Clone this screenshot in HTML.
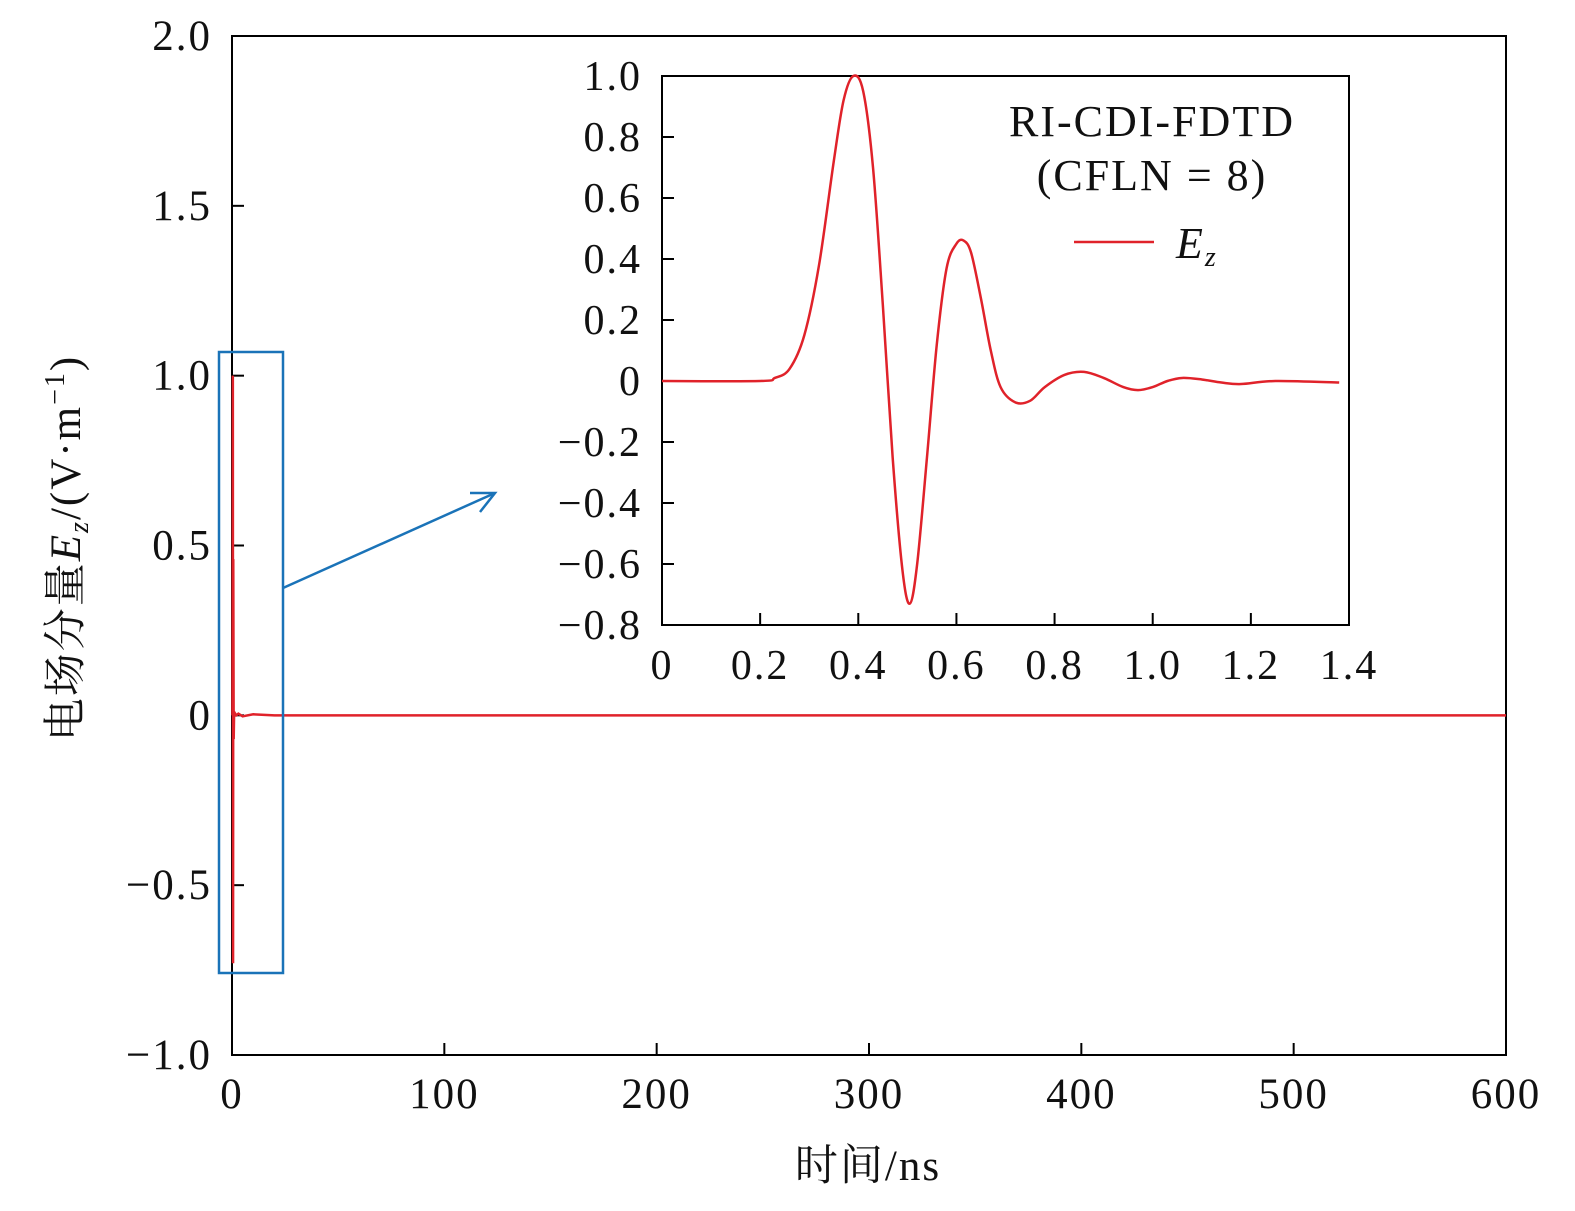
<!DOCTYPE html>
<html><head><meta charset="utf-8"><style>
body{margin:0;background:#fff}
svg{display:block}
svg text{font-family:"Liberation Serif","Noto Serif CJK SC",serif;fill:#111;letter-spacing:2px}
</style></head><body>
<svg width="1575" height="1211" viewBox="0 0 1575 1211" xmlns="http://www.w3.org/2000/svg">
<g id="main"></g>
<g id="inset"></g>
</svg>
<script>
const mainXTicks=[0,100,200,300,400,500,600];
const mainYTicks=[-1.0,-0.5,0,0.5,1.0,1.5,2.0];
const mainYLabels=["\u22121.0","\u22120.5","0","0.5","1.0","1.5","2.0"];
const mainT=[0,0.2,0.3,0.4,0.5,0.6,0.8,1,2,3,5,10,20,600];
const mainV=[0,0,0.3,1.0,-0.73,0.46,-0.07,0.01,0.0,0.005,-0.003,0.003,0,0];
const insetXTicks=[0,0.2,0.4,0.6,0.8,1.0,1.2,1.4];
const insetXLabels=["0","0.2","0.4","0.6","0.8","1.0","1.2","1.4"];
const insetYTicks=[-0.8,-0.6,-0.4,-0.2,0,0.2,0.4,0.6,0.8,1.0];
const insetYLabels=["\u22120.8","\u22120.6","\u22120.4","\u22120.2","0","0.2","0.4","0.6","0.8","1.0"];
const insetT=[0,0.2,0.23,0.26,0.29,0.32,0.35,0.37,0.39,0.41,0.43,0.45,0.47,0.49,0.505,0.52,0.54,0.56,0.58,0.6,0.615,0.63,0.65,0.67,0.69,0.72,0.75,0.78,0.82,0.86,0.9,0.94,0.97,1.0,1.03,1.06,1.1,1.14,1.18,1.25,1.38];
const insetV=[0,0,0.01,0.04,0.15,0.38,0.72,0.92,1.0,0.95,0.7,0.25,-0.25,-0.62,-0.73,-0.6,-0.25,0.12,0.37,0.45,0.46,0.42,0.27,0.1,-0.02,-0.07,-0.065,-0.02,0.02,0.03,0.01,-0.02,-0.03,-0.02,0.0,0.01,0.005,-0.005,-0.01,0.0,-0.005];
const NS="http://www.w3.org/2000/svg";
function mk(p,tag,a){const e=document.createElementNS(NS,tag);for(const k in a)e.setAttribute(k,a[k]);p.appendChild(e);return e;}
function smooth(pts){let d='M'+pts[0][0]+','+pts[0][1];
 for(let i=0;i<pts.length-1;i++){const p0=pts[i-1]||pts[i],p1=pts[i],p2=pts[i+1],p3=pts[i+2]||p2;
  const c1=[p1[0]+(p2[0]-p0[0])/6,p1[1]+(p2[1]-p0[1])/6],c2=[p2[0]-(p3[0]-p1[0])/6,p2[1]-(p3[1]-p1[1])/6];
  d+=' C'+c1+' '+c2+' '+p2;}return d;}
// main
const m=document.getElementById('main');
const mx=v=>232+(v/600)*(1506-232), my=v=>1055-(v+1)/3*(1055-36);
let e=mk(m,'rect',{x:232,y:36,width:1274,height:1019,fill:'none',stroke:'#000','stroke-width':2});

mainXTicks.forEach(t=>{mk(m,'line',{x1:mx(t),x2:mx(t),y1:1055,y2:1043,stroke:'#000','stroke-width':2});
 const tx=mk(m,'text',{x:mx(t),y:1108,'font-size':43,'text-anchor':'middle'});tx.textContent=t;
 });
mainYTicks.forEach((t,i)=>{mk(m,'line',{x1:232,x2:244,y1:my(t),y2:my(t),stroke:'#000','stroke-width':2});
 const tx=mk(m,'text',{x:212,y:my(t)+14,'font-size':43,'text-anchor':'end'});tx.textContent=mainYLabels[i];
 });
e=mk(m,'polyline',{points:mainT.map((t,i)=>mx(t)+','+my(mainV[i])).join(' '),fill:'none',stroke:'#e0222a','stroke-width':2.5});

e=mk(m,'rect',{x:219,y:352,width:64,height:621,fill:'none',stroke:'#1a73b8','stroke-width':2.5});

e=mk(m,'line',{x1:283,y1:588,x2:495,y2:493,stroke:'#1a73b8','stroke-width':2.5});

mk(m,'polyline',{points:'470,493 495,493 480,512',fill:'none',stroke:'#1a73b8','stroke-width':2.5});
e=mk(m,'text',{x:868,y:1180,'font-size':43,'text-anchor':'middle'});e.textContent='时间/ns';

e=mk(m,'text',{x:0,y:0,'font-size':43,'text-anchor':'middle',transform:'translate(80,548) rotate(-90)'});
e.innerHTML='电场分量<tspan font-style="italic">E</tspan><tspan font-style="italic" font-size="28" dy="8">z</tspan><tspan dy="-8">/(V·m</tspan><tspan font-size="28" dy="-16">−1</tspan><tspan dy="16">)</tspan>';

// inset
const g=document.getElementById('inset');
const ix=v=>662+v/1.4*(1349-662), iy=v=>625-(v+0.8)/1.8*(625-76);
e=mk(g,'rect',{x:662,y:76,width:687,height:549,fill:'#fff',stroke:'#000','stroke-width':2});

insetXTicks.forEach((t,i)=>{mk(g,'line',{x1:ix(t),x2:ix(t),y1:625,y2:613,stroke:'#000','stroke-width':2});
 const tx=mk(g,'text',{x:ix(t),y:679,'font-size':42,'text-anchor':'middle'});tx.textContent=insetXLabels[i];
 });
insetYTicks.forEach((t,i)=>{mk(g,'line',{x1:662,x2:674,y1:iy(t),y2:iy(t),stroke:'#000','stroke-width':2});
 const tx=mk(g,'text',{x:642,y:iy(t)+14,'font-size':42,'text-anchor':'end'});tx.textContent=insetYLabels[i];
 });
e=mk(g,'path',{d:smooth(insetT.map((t,i)=>[ix(t),iy(insetV[i])])),fill:'none',stroke:'#e0222a','stroke-width':2.5,'stroke-linejoin':'round'});

e=mk(g,'text',{x:1152,y:136,'font-size':44,'text-anchor':'middle'});e.textContent='RI-CDI-FDTD';

e=mk(g,'text',{x:1152,y:190,'font-size':44,'text-anchor':'middle'});e.textContent='(CFLN = 8)';

e=mk(g,'line',{x1:1074,x2:1154,y1:242,y2:242,stroke:'#e0222a','stroke-width':2.5});

e=mk(g,'text',{x:1176,y:258,'font-size':44,'font-style':'italic'});e.innerHTML='E<tspan font-size="28" dy="8">z</tspan>';

</script>
</body></html>
